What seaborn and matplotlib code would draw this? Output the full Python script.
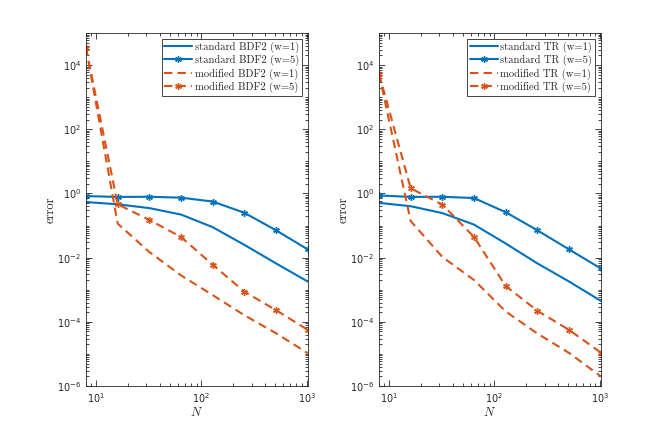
import numpy as np
import pandas as pd
import seaborn as sns
import matplotlib
matplotlib.use("Agg")
import matplotlib.pyplot as plt
from matplotlib.ticker import LogLocator, NullFormatter

# step counts
N = [8, 16, 32, 64, 128, 256, 512, 1024]

# BDF2 errors
bdf2_std_w1 = [0.54, 0.46, 0.35, 0.22, 0.089, 0.025, 6.6e-3, 1.8e-3]
bdf2_std_w5 = [0.83, 0.78, 0.79, 0.74, 0.56, 0.25, 0.071, 0.018]
bdf2_mod_w1 = [3.5e4, 0.115, 0.015, 2.8e-3, 6.8e-4, 1.6e-4, 4.4e-5, 1.05e-5]
bdf2_mod_w5 = [3.5e4, 0.46, 0.15, 0.044, 6.0e-3, 8.7e-4, 2.3e-4, 5.6e-5]

# TR errors
tr_std_w1 = [0.51, 0.40, 0.245, 0.107, 0.0275, 6.6e-3, 1.8e-3, 4.5e-4]
tr_std_w5 = [0.87, 0.78, 0.79, 0.72, 0.26, 0.071, 0.018, 4.6e-3]
tr_mod_w1 = [5.4e3, 0.138, 0.0105, 2.0e-3, 2.1e-4, 4.3e-5, 1.07e-5, 2.0e-6]
tr_mod_w5 = [5.4e3, 1.45, 0.45, 0.044, 1.3e-3, 2.2e-4, 5.6e-5, 1.1e-5]

blue = "#0072BD"
orange = "#D95319"

sns.set_style("ticks")
plt.rcParams["font.family"] = ["DejaVu Sans"]
plt.rcParams["mathtext.fontset"] = "cm"
plt.rcParams["axes.edgecolor"] = "#262626"
plt.rcParams["xtick.color"] = "#262626"
plt.rcParams["ytick.color"] = "#262626"
plt.rcParams["axes.formatter.use_mathtext"] = True

fig = plt.figure(figsize=(6.64, 4.32), dpi=100)
ax1 = fig.add_axes([0.1295, 0.1065, 0.334, 0.817])
ax2 = fig.add_axes([0.5708, 0.1065, 0.334, 0.817])


def panel(ax, name, std1, std5, mod1, mod5):
    ax.set_xscale("log")
    ax.set_yscale("log")
    star = (6, 2, 0)
    mk = dict(marker=star, markersize=4.8, markeredgewidth=1.0)
    sns.lineplot(x=N, y=std1, ax=ax, color=blue, lw=1.5,
                 label="standard " + name + " (w=1)")
    sns.lineplot(x=N, y=std5, ax=ax, color=blue, lw=1.5,
                 markeredgecolor=blue, **mk,
                 label="standard " + name + " (w=5)")
    sns.lineplot(x=N, y=mod1, ax=ax, color=orange, lw=1.5, dashes=(4, 2.5),
                 label="modified " + name + " (w=1)")
    sns.lineplot(x=N, y=mod5, ax=ax, color=orange, lw=1.5, dashes=(4, 2.5),
                 markeredgecolor=orange, **mk,
                 label="modified " + name + " (w=5)")
    ax.set_xlim(8, 1024)
    ax.set_ylim(1e-6, 1e5)
    ax.xaxis.set_major_locator(LogLocator(base=10, numticks=10))
    ax.xaxis.set_minor_locator(LogLocator(base=10, subs=np.arange(2, 10), numticks=20))
    ax.xaxis.set_minor_formatter(NullFormatter())
    ax.set_yticks([1e-6, 1e-4, 1e-2, 1e0, 1e2, 1e4])
    ax.yaxis.set_minor_locator(LogLocator(base=10, subs=np.arange(1, 10), numticks=30))
    ax.yaxis.set_minor_formatter(NullFormatter())
    ax.tick_params(which="both", direction="in", top=True, right=True,
                   labelsize=7, width=0.6)
    ax.tick_params(which="major", length=4)
    ax.tick_params(which="minor", length=2)
    for sp in ax.spines.values():
        sp.set_visible(True)
        sp.set_linewidth(0.6)
    ax.set_xlabel(r"$N$", fontsize=9, labelpad=1)
    ax.set_ylabel("error", fontsize=9, family="cmr10", labelpad=0)
    leg = ax.legend(loc="upper right", prop={"family": "cmr10", "size": 7.6},
                    handlelength=2.65, handletextpad=0.25, labelspacing=0.2,
                    borderpad=0.25, borderaxespad=0.55, fancybox=False,
                    framealpha=1)
    leg.get_frame().set_edgecolor("#262626")
    leg.get_frame().set_linewidth(0.6)


panel(ax1, "BDF2", bdf2_std_w1, bdf2_std_w5, bdf2_mod_w1, bdf2_mod_w5)
panel(ax2, "TR", tr_std_w1, tr_std_w5, tr_mod_w1, tr_mod_w5)

fig.savefig("out.png", dpi=100)
